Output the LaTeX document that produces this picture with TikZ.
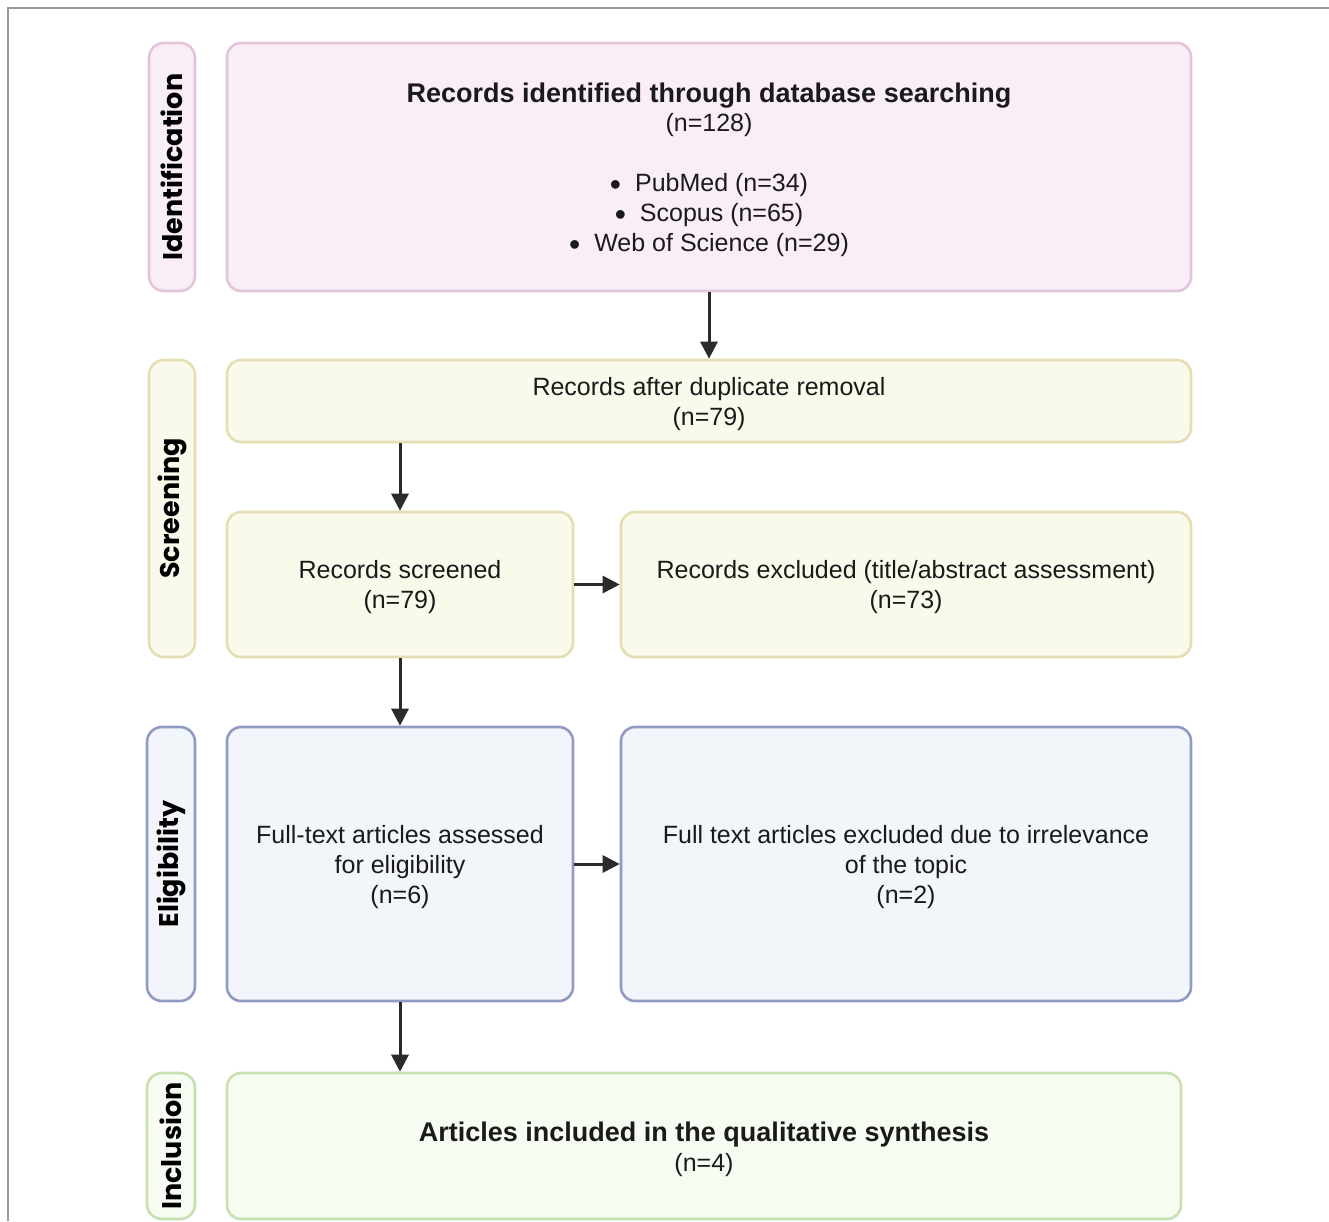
\documentclass[tikz,border=0pt]{standalone}
\usepackage{fontspec}
\setmainfont{Liberation Sans}
\newfontfamily\stagefont{Poppins}
\usetikzlibrary{arrows.meta}
\definecolor{pinkfill}{HTML}{F9EDF7}
\definecolor{pinkdraw}{HTML}{E3C5DB}
\definecolor{yelfill}{HTML}{FAFAEC}
\definecolor{yeldraw}{HTML}{E5DEB2}
\definecolor{bluefill}{HTML}{F2F5FA}
\definecolor{bluedraw}{HTML}{8E9BC6}
\definecolor{grnfill}{HTML}{F7FCF2}
\definecolor{grndraw}{HTML}{C6E0B2}
\definecolor{arrcol}{HTML}{2B2B2B}
\definecolor{txtcol}{HTML}{1A1A1A}
\newcommand{\bigbul}{{\fontsize{32}{30}\selectfont\raisebox{-3.5pt}{\textbullet}}\hspace{14pt}}
\tikzset{
  box/.style={draw, line width=2.6pt, rounded corners=14pt, inner sep=0pt},
  boxtext/.style={align=center, inner sep=0pt, text=txtcol, font=\fontsize{25}{30}\selectfont},
  stagebox/.style={draw, line width=2.6pt, rounded corners=15pt, inner sep=0pt, rotate=90,
    text=black, font=\stagefont\bfseries\fontsize{27}{30}\selectfont},
  pinkbox/.style={fill=pinkfill, draw=pinkdraw},
  yelbox/.style={fill=yelfill, draw=yeldraw},
  bluebox/.style={fill=bluefill, draw=bluedraw},
  grnbox/.style={fill=grnfill, draw=grndraw},
  arr/.style={draw=arrcol, line width=3pt, -{Triangle[length=17pt,width=17pt]}}
}
\begin{document}
\begin{tikzpicture}[x=1pt,y=-1pt]
\useasboundingbox (0,0) rectangle (1329,1221);
\fill[white] (0,0) rectangle (1329,1221);
\draw[gray!80, line width=1.5pt] (8,1221) -- (8,8) -- (1329,8);

% stage labels
\node[stagebox, pinkbox, minimum width=248pt, minimum height=46pt] (sid) at (172,167) {Identification};
\node[stagebox, yelbox, minimum width=297pt, minimum height=46pt] (ssc) at (172,508.5) {Screening};
\node[stagebox, bluebox, minimum width=274pt, minimum height=48pt] (sel) at (171,864) {Eligibility};
\node[stagebox, grnbox, minimum width=146pt, minimum height=48pt] (sin) at (171,1146) {Inclusion};

% boxes
\node[box, pinkbox, minimum width=964pt, minimum height=248pt] (b1) at (709,167) {};
\node[box, yelbox, minimum width=964pt, minimum height=82pt] (b2) at (709,401) {};
\node[box, yelbox, minimum width=346pt, minimum height=145pt] (b3) at (400,584.5) {};
\node[box, yelbox, minimum width=570pt, minimum height=145pt] (b4) at (906,584.5) {};
\node[box, bluebox, minimum width=346pt, minimum height=274pt] (b5) at (400,864) {};
\node[box, bluebox, minimum width=570pt, minimum height=274pt] (b6) at (906,864) {};
\node[box, grnbox, minimum width=954pt, minimum height=146pt] (b7) at (704,1146) {};

% texts
\node[boxtext] (t1) at ([yshift=-3pt]b1.center)
  {{\bfseries\fontsize{27}{32}\selectfont Records identified through database searching}\\[-1pt]
   (n=128)\\[30pt]
   \bigbul PubMed (n=34)\\
   \bigbul Scopus (n=65)\\
   \bigbul Web of Science (n=29)};
\node[boxtext] (t2) at ([yshift=-3pt]b2.center) {Records after duplicate removal\\(n=79)};
\node[boxtext] (t3) at ([yshift=-3pt]b3.center) {Records screened\\(n=79)};
\node[boxtext] (t4) at ([yshift=-3pt]b4.center) {Records excluded (title/abstract assessment)\\(n=73)};
\node[boxtext] (t5) at ([yshift=-3pt]b5.center) {Full-text articles assessed\\for eligibility\\(n=6)};
\node[boxtext] (t6) at ([yshift=-3pt]b6.center) {Full text articles excluded due to irrelevance\\of the topic\\(n=2)};
\node[boxtext] (t7) at ([yshift=-3pt]b7.center)
  {{\bfseries\fontsize{27}{32}\selectfont Articles included in the qualitative synthesis}\\(n=4)};

% arrows
\draw[arr] (b1.south) -- (b2.north);
\draw[arr] (b3.north |- b2.south) -- (b3.north);
\draw[arr] (b3.east) -- (b4.west);
\draw[arr] (b3.south) -- (b5.north);
\draw[arr] (b5.east) -- (b6.west);
\draw[arr] (b5.south) -- (b5.south |- b7.north);
\end{tikzpicture}
\end{document}
